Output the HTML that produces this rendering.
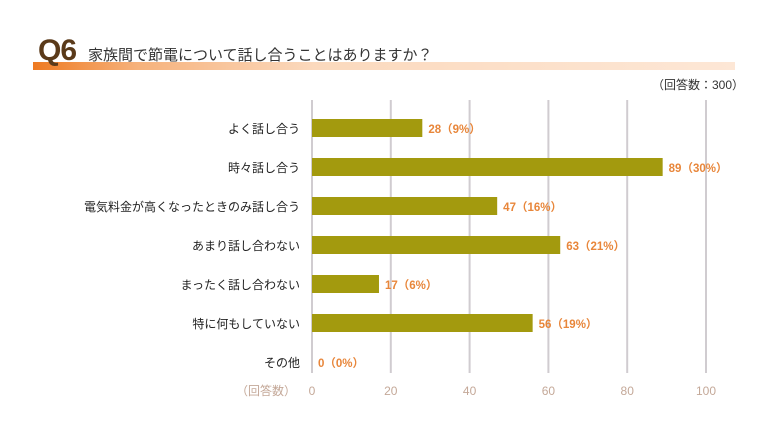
<!DOCTYPE html>
<html><head><meta charset="utf-8"><style>
body{margin:0;width:768px;height:432px;background:#fff;font-family:"Liberation Sans","Noto Sans CJK JP",sans-serif;position:relative;overflow:hidden}
.a{position:absolute;white-space:nowrap}
</style></head><body>
<div class="a" style="left:33px;top:62px;width:702px;height:8px;background:linear-gradient(90deg,#ee7a22 0%,#f6b27c 15%,#fbd9bd 40%,#fde7d6 100%)"></div>
<div class="a" style="left:38px;top:34px;font-size:30px;font-weight:bold;color:#5a3a1a;letter-spacing:-1px">Q6</div>
<div class="a" style="left:88px;top:44px;font-size:15px;color:#333">家族間で節電について話し合うことはありますか？</div>
<div class="a" style="left:652px;top:76px;font-size:12px;color:#333">（回答数：300）</div>
<svg id="c" class="a" style="left:0;top:0" width="768" height="432"></svg>
<script>
const categories=["よく話し合う","時々話し合う","電気料金が高くなったときのみ話し合う","あまり話し合わない","まったく話し合わない","特に何もしていない","その他"];
const values=[28,89,47,63,17,56,0];
const percents=["9%","30%","16%","21%","6%","19%","0%"];
const ticks=[0,20,40,60,80,100];
const svg=document.getElementById('c');const ns='http://www.w3.org/2000/svg';
const x0=312,x1=706,xs=v=>x0+(x1-x0)*v/100;
const yc=i=>128+i*39;
function mk(t,a,txt){const e=document.createElementNS(ns,t);for(const k in a)e.setAttribute(k,a[k]);if(txt!==undefined)e.textContent=txt;svg.appendChild(e);return e;}
ticks.forEach(t=>{
const l=mk('line',{x1:xs(t),x2:xs(t),y1:100,y2:373,stroke:'#d0ccd0','stroke-width':2});


const tx=mk('text',{x:xs(t),y:395,'text-anchor':'middle','font-size':12,fill:'#c4a898'},String(t));


});
const ax=mk('text',{x:296,y:395,'text-anchor':'end','font-size':12,fill:'#c4a898'},'（回答数）');


categories.forEach((c,i)=>{
const y=yc(i);
const lb=mk('text',{x:300,y:y+5,'text-anchor':'end','font-size':12,fill:'#222'},c);


if(values[i]>0){const r=mk('rect',{x:x0,y:y-9,width:xs(values[i])-x0,height:18,fill:'#a39a0e'});

}
const v=mk('text',{x:xs(values[i])+6,y:y+5,'font-size':11.5,'font-weight':'bold',fill:'#e8863a'},values[i]+'（'+percents[i]+'）');


});
</script>
</body></html>
